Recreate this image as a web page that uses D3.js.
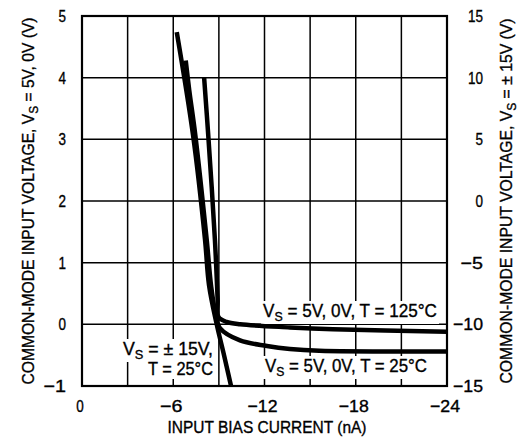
<!DOCTYPE html>
<html>
<head>
<meta charset="utf-8">
<script src="https://cdn.jsdelivr.net/npm/d3@7"></script>
<style>
  body { margin: 0; background: #fff; }
  text { font-family: "Liberation Sans Narrow", "Arial Narrow", "Liberation Sans", Arial, sans-serif; fill: #000; stroke: #000; stroke-width: 0.35px; }
</style>
</head>
<body>
<div id="container-div"></div>
<script>
// tick values
var xTicks = [0, -6, -12, -18, -24];
var xGrid = [0, -3, -6, -9, -12, -15, -18, -21, -24];
var yLeftTicks = [5, 4, 3, 2, 1, 0, -1];
var yRightTicks = [15, 10, 5, 0, -5, -10, -15];

// VS = ±15V, T = 25°C (read on right axis)
var pm15Current = [-6.23, -7.3, -8.09, -8.35, -8.84, -9.34, -9.8];
var pm15Voltage = [13.7, 5.35, -3.15, -6.8, -9.9, -12.5, -15];

// VS = 5V, 0V, T = 25°C (left axis)
var t25Current = [-6.82, -7.05, -7.45, -8.2, -8.5, -8.8, -9.07, -10.39, -12.16, -13.67, -15.6, -24];
var t25Voltage = [4.28, 3.8, 3.07, 1.37, 0.6, 0.15, -0.06, -0.26, -0.35, -0.40, -0.43, -0.44];

// VS = 5V, 0V, T = 125°C (left axis)
var t125Current = [-8.03, -8.3, -8.74, -8.92, -8.97, -9.5, -10.4, -13.67, -16.5, -24];
var t125Voltage = [4.0, 3.07, 1.37, 0.4, 0.12, 0.04, 0.0, -0.05, -0.08, -0.12];

function fmt(v) {
    return v < 0 ? "\u2212" + Math.abs(v) : String(v);
}
// width a tick label takes in the scanned lettering
function tickLen(v) {
    return String(Math.abs(v)).length * 7.5 + (v < 0 ? 15 : 0);
}

var viz = d3.select("#container-div").append("svg")
    .attr("width", 523)
    .attr("height", 440)
    .attr("id", "viz");

var x = d3.scaleLinear().domain([0, -24]).range([82, 447]);
var yLeft = d3.scaleLinear().domain([-1, 5]).range([386, 16]);
var yRight = d3.scaleLinear().domain([-15, 15]).range([386, 16]);

// grid
viz.selectAll("line.vgrid").data(xGrid).enter()
    .append("line")
    .attr("class", "vgrid")
    .attr("x1", x).attr("x2", x)
    .attr("y1", yLeft(5)).attr("y2", yLeft(-1))
    .attr("stroke", "black")
    .attr("stroke-width", 1.5);

viz.selectAll("line.hgrid").data(yLeftTicks).enter()
    .append("line")
    .attr("class", "hgrid")
    .attr("x1", x(0)).attr("x2", x(-24))
    .attr("y1", yLeft).attr("y2", yLeft)
    .attr("stroke", "black")
    .attr("stroke-width", 1.5);

viz.append("rect")
    .attr("x", x(0)).attr("y", yLeft(5))
    .attr("width", x(-24) - x(0))
    .attr("height", yLeft(-1) - yLeft(5))
    .attr("fill", "none")
    .attr("stroke", "black")
    .attr("stroke-width", 2.2);

// tick labels
viz.selectAll("text.xtick").data(xTicks).enter()
    .append("text")
    .attr("class", "xtick")
    .attr("x", function(d) { return x(d) - 2; })
    .attr("y", 412)
    .attr("text-anchor", "middle")
    .attr("font-size", 17)
    .attr("textLength", tickLen)
    .attr("lengthAdjust", "spacingAndGlyphs")
    .text(fmt);

viz.selectAll("text.ytickL").data(yLeftTicks).enter()
    .append("text")
    .attr("class", "ytickL")
    .attr("x", 66)
    .attr("y", function(d) { return yLeft(d) + 6; })
    .attr("text-anchor", "end")
    .attr("font-size", 17)
    .attr("textLength", tickLen)
    .attr("lengthAdjust", "spacingAndGlyphs")
    .text(fmt);

viz.selectAll("text.ytickR").data(yRightTicks).enter()
    .append("text")
    .attr("class", "ytickR")
    .attr("x", 483)
    .attr("y", function(d) { return yRight(d) + 6; })
    .attr("text-anchor", "end")
    .attr("font-size", 17)
    .attr("textLength", tickLen)
    .attr("lengthAdjust", "spacingAndGlyphs")
    .text(fmt);

// axis titles
viz.append("text")
    .attr("x", 267).attr("y", 433)
    .attr("text-anchor", "middle")
    .attr("font-size", 17)
    .attr("textLength", 199)
    .attr("lengthAdjust", "spacingAndGlyphs")
    .text("INPUT BIAS CURRENT (nA)");

function vsTitle(cx, cy, len, rest) {
    var t = viz.append("text")
        .attr("transform", "translate(" + cx + "," + cy + ") rotate(-90)")
        .attr("text-anchor", "middle")
        .attr("font-size", 17)
        .attr("textLength", len)
        .attr("lengthAdjust", "spacingAndGlyphs");
    t.append("tspan").text("COMMON-MODE INPUT VOLTAGE, V");
    t.append("tspan").attr("font-size", 13).attr("dy", 4).text("S");
    t.append("tspan").attr("dy", -4).text(rest);
}
vsTitle(34, 201, 367, " = 5V, 0V (V)");
vsTitle(512, 201, 365, " = \u00b1 15V (V)");

// curve labels
function label(px, py, anchor, len, rest, plain) {
    var t = viz.append("text")
        .attr("class", "clabel")
        .attr("x", px).attr("y", py)
        .attr("text-anchor", anchor)
        .attr("font-size", 18)
        .attr("textLength", len)
        .attr("lengthAdjust", "spacingAndGlyphs");
    if (plain) { t.text(rest); return t; }
    t.append("tspan").text("V");
    t.append("tspan").attr("font-size", 13).attr("dy", 4).text("S");
    t.append("tspan").attr("dy", -4).text(rest);
    return t;
}
var labels = [
    label(263, 317, "start", 174, " = 5V, 0V, T = 125\u00b0C"),
    label(265, 372, "start", 162, " = 5V, 0V, T = 25\u00b0C"),
    label(213, 355, "end", 90, " = \u00b1 15V,"),
    label(213, 375, "end", 65, "T = 25\u00b0C", true)
];

var curveLayer = viz.append("g");

labels.forEach(function(t) {
    var b = t.node().getBBox();
    viz.insert("rect", "g")
        .attr("x", b.x - 2).attr("y", b.y)
        .attr("width", b.width + 4).attr("height", b.height)
        .attr("fill", "white");
    t.raise();
});

// curves
function series(cur, volt, ys) {
    return cur.map(function(c, i) { return [x(c), ys(volt[i])]; });
}
var line = d3.line().curve(d3.curveCatmullRom.alpha(0.5));

curveLayer.selectAll("path")
    .data([
        series(pm15Current, pm15Voltage, yRight),
        series(t25Current, t25Voltage, yLeft),
        series(t125Current, t125Voltage, yLeft)
    ])
    .enter().append("path")
    .attr("d", line)
    .attr("fill", "none")
    .attr("stroke", "black")
    .attr("stroke-width", 4.5)
    .attr("stroke-linejoin", "round");
</script>
</body>
</html>
